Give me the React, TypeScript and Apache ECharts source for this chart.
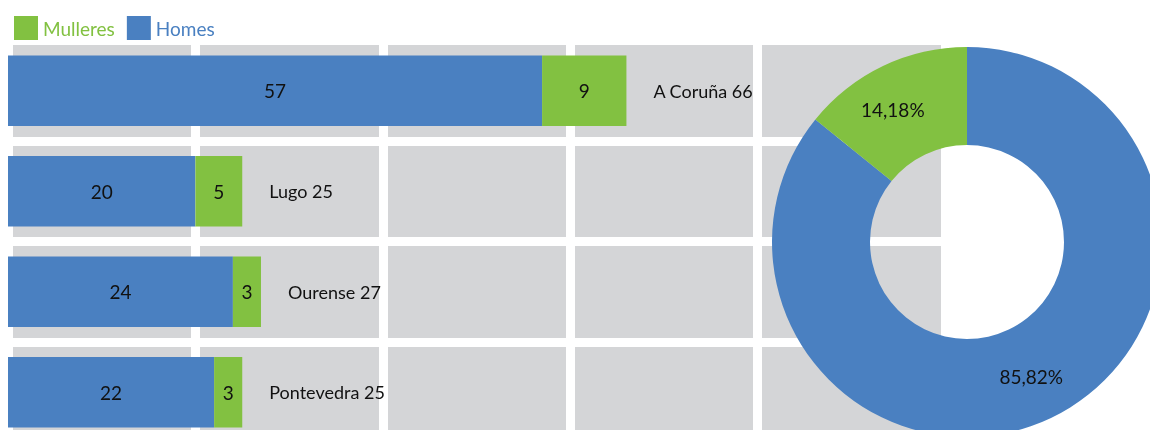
import React, { useEffect, useRef } from "react";
import * as echarts from "echarts";

const provinces = ["A Coruña", "Lugo", "Ourense", "Pontevedra"];
const homes = [57, 20, 24, 22];
const mulleres = [9, 5, 3, 3];
const totals = [66, 25, 27, 25];
const pieNames = ["Homes", "Mulleres"];
const pieValues = [85.82, 14.18];
const xTicks = [0, 20, 40, 60, 80, 100];

const BLUE = "#4a80c1";
const GREEN = "#82c141";
const GRAY = "#d4d5d7";
const FONT = "Lato";

export default function App() {
  const ref = useRef<HTMLDivElement>(null);
  useEffect(() => {
    if (!ref.current) return;
    const chart = echarts.init(ref.current, undefined, { renderer: "svg" });
    chart.setOption({
      animation: false,
      textStyle: { fontFamily: FONT },
      legend: {
        data: [
          { name: "Mulleres", textStyle: { color: GREEN } },
          { name: "Homes", textStyle: { color: BLUE } },
        ],
        left: 14,
        top: 16,
        padding: 0,
        itemWidth: 24,
        itemHeight: 24,
        itemGap: 12,
        icon: "rect",
        textStyle: { fontSize: 19, fontFamily: FONT, padding: [5, 0, 0, 0] },
      },
      grid: {
        left: 8,
        top: 40.5,
        width: 937,
        height: 402,
        show: true,
        backgroundColor: GRAY,
        borderWidth: 0,
      },
      xAxis: {
        type: "value",
        min: xTicks[0],
        max: xTicks[xTicks.length - 1],
        interval: 20,
        axisLine: { show: false },
        axisTick: { show: false },
        axisLabel: { show: false },
        splitLine: { show: true, lineStyle: { color: "#ffffff", width: 9 } },
      },
      yAxis: {
        type: "category",
        data: provinces,
        inverse: true,
        axisLine: { show: false },
        axisTick: { show: false },
        axisLabel: { show: false },
        splitLine: { show: true, interval: 0, lineStyle: { color: "#ffffff", width: 9 } },
      },
      series: [
        {
          name: "Homes",
          type: "bar",
          stack: "t",
          data: homes,
          barWidth: "70%",
          itemStyle: { color: BLUE },
          label: { show: true, position: "inside", color: "#111", fontSize: 19, fontFamily: FONT },
        },
        {
          name: "Mulleres",
          type: "bar",
          stack: "t",
          data: mulleres,
          barWidth: "70%",
          itemStyle: { color: GREEN },
          label: { show: true, position: "inside", color: "#111", fontSize: 19, fontFamily: FONT },
        },
        {
          name: "Total",
          type: "bar",
          data: totals,
          barWidth: "70%",
          barGap: "-100%",
          itemStyle: { color: "rgba(0,0,0,0)" },
          silent: true,
          label: {
            show: true,
            position: "right",
            distance: 27,
            color: "#111",
            fontSize: 18,
            fontFamily: FONT,
            formatter: (p: any) => `${p.name} ${p.value}`,
          },
          z: 1,
        },
        {
          name: "pie",
          type: "pie",
          center: [967, 242],
          radius: [97, 195],
          startAngle: 90,
          clockwise: true,
          data: pieNames.map((n, i) => ({
            name: n,
            value: pieValues[i],
            itemStyle: { color: n === "Homes" ? BLUE : GREEN },
            label: n === "Mulleres" ? { offset: [-10, 2] } : {},
          })),
          label: {
            show: true,
            position: "inside",
            color: "#111",
            fontSize: 19,
            fontFamily: FONT,
            formatter: (p: any) => `${String(p.value.toFixed(2)).replace(".", ",")}%`,
          },
          labelLine: { show: false },
        },
      ],
    });
    return () => chart.dispose();
  }, []);
  return (
    <div
      ref={ref}
      style={{ position: "fixed", left: 0, top: 0, width: 1150, height: 460 }}
    />
  );
}
